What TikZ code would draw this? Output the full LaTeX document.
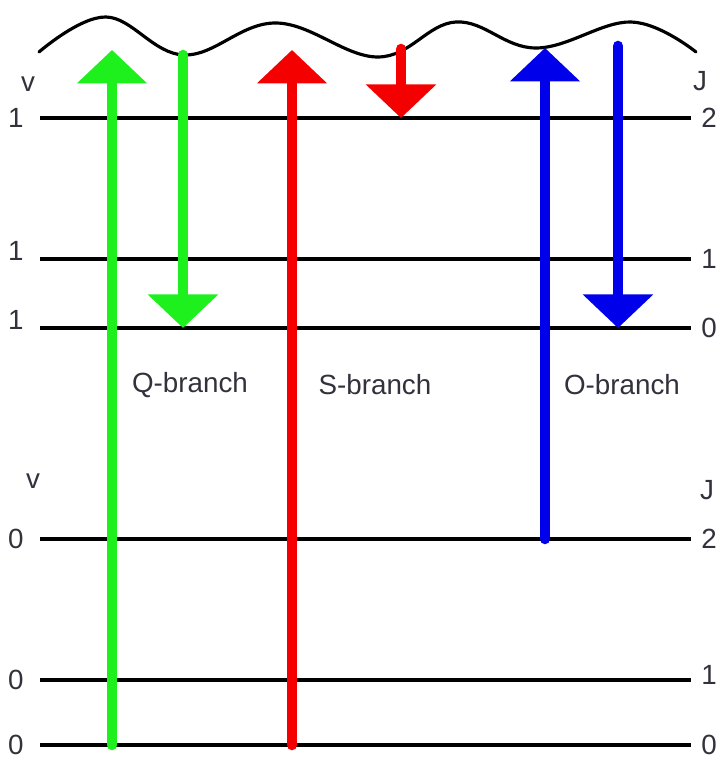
\documentclass[tikz,border=0pt]{standalone}
\usepackage{fontspec}
\setmainfont{Liberation Sans}
\usetikzlibrary{arrows.meta}

\definecolor{qgreen}{RGB}{30,240,30}
\definecolor{sred}{RGB}{245,0,0}
\definecolor{oblue}{RGB}{0,0,235}
\definecolor{txtgray}{RGB}{50,50,60}

\begin{document}
\begin{tikzpicture}[
    level/.style={line width=2.4pt},
    trans/.style={line width=6pt, line cap=round,
      -{Triangle[width=1.37cm,length=0.67cm]}},
    lbl/.style={text=txtgray, font=\fontsize{15.8}{18}\selectfont, inner sep=0pt}
  ]
  \useasboundingbox (0,0) rectangle (14.44,15.18);
  % levels: name / height / v / J / shift of left and right label
  \foreach \lv/\y/\v/\J/\dl/\dr in {12/12.82/1/2/0/0, 11/10.0/1/1/0.16/0,
                                    10/8.62/1/0/0.16/0, 02/4.40/0/2/0/0,
                                    01/1.58/0/1/0/0.1, 00/0.28/0/0/0/0} {
    \coordinate (L\lv) at (0.8,\y);
    \coordinate (R\lv) at (13.82,\y);
    \draw[level] (L\lv) -- (R\lv);
    \node[lbl, left=0.32cm, yshift=\dl cm] (v\lv) at (L\lv) {\v};
    \node[lbl, right=0.2cm, yshift=\dr cm] (J\lv) at (R\lv) {\J};
  }
  \node[lbl] (vtop) at (0.56,13.5) {v};
  \node[lbl] (Jtop) at (14.0,13.56) {J};
  \node[lbl] (vbot) at (0.66,5.56) {v};
  \node[lbl] (Jbot) at (14.14,5.38) {J};
  % virtual level
  \draw[line width=1.8pt, line cap=round] plot[smooth, tension=0.65] coordinates {
    (0.78,14.14) (2.12,14.84) (3.68,14.08) (5.52,14.72) (7.56,14.04)
    (9.12,14.74) (10.72,14.22) (12.62,14.74) (13.92,14.14)};
  % ends of the transitions
  \coordinate (qup) at (2.24,14.18);
  \coordinate (qdn) at (3.66,14.08);
  \coordinate (sup) at (5.84,14.18);
  \coordinate (sdn) at (8.02,14.2);
  \coordinate (oup) at (10.9,14.22);
  \coordinate (odn) at (12.36,14.26);
  % Q-branch
  \draw[trans, qgreen] (L00 -| qup) -- (qup);
  \draw[trans, qgreen] (qdn) -- (L10 -| qdn);
  % S-branch
  \draw[trans, sred] (L00 -| sup) -- (sup);
  \draw[trans, sred] (sdn) -- (L12 -| sdn);
  % O-branch
  \draw[trans, oblue] (L02 -| oup) -- (oup);
  \draw[trans, oblue] (odn) -- (L10 -| odn);
  \node[lbl] (qlab) at (3.8,7.48) {Q-branch};
  \node[lbl] (slab) at (7.5,7.48) {S-branch};
  \node[lbl] (olab) at (12.44,7.48) {O-branch};
\end{tikzpicture}
\end{document}
